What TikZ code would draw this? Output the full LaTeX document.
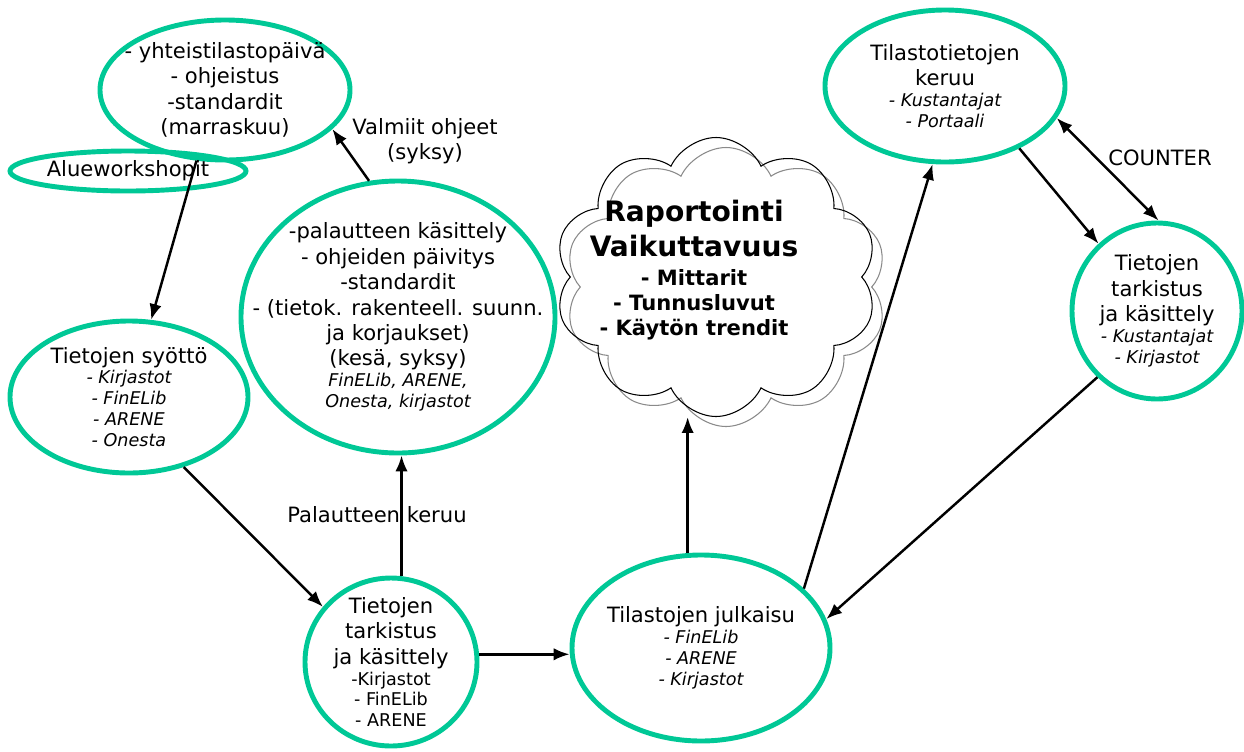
\documentclass[tikz,border=0pt]{standalone}
\usepackage{fontspec}
\setmainfont{DejaVu Sans}
\usepackage{xcolor}
\usepackage{tikz}
\usetikzlibrary{arrows.meta,shapes.geometric,shapes.symbols,shadows}
\definecolor{cyclegreen}{HTML}{00C896}
\definecolor{shadowgray}{HTML}{8A8A8A}
\newcommand{\srcline}[1]{{\fontsize{10}{12}\selectfont\itshape #1}}
\newcommand{\srcplain}[1]{{\fontsize{10}{12}\selectfont #1}}
\tikzset{
  stage/.style={
    draw=cyclegreen,
    ellipse,
    line width=2.8pt,
    inner sep=0pt
  },
  stagetext/.style={
    align=center,
    inner sep=0pt,
    font=\fontsize{12}{14.5}\selectfont
  },
  cloudshape/.style={
    cloud,
    cloud puffs=10,
    cloud puff arc=130,
    aspect=1.15,
    draw=black,
    line width=0.6pt,
    inner sep=0pt,
    minimum width=6.46cm,
    minimum height=5.58cm,
    copy shadow={shadow xshift=2mm, shadow yshift=-2mm, draw=shadowgray, fill=none, line width=0.6pt}
  },
  cloudtext/.style={
    align=center,
    inner sep=0pt,
    font=\bfseries\fontsize{16}{20}\selectfont
  },
  flowarrow/.style={
    -{Latex[length=9pt,width=7pt]},
    line width=1.4pt,
    draw=black
  },
  note/.style={
    align=center,
    inner sep=1pt,
    font=\fontsize{12}{14.5}\selectfont
  }
}

\begin{document}
\begin{tikzpicture}[x=0.2mm,y=-0.2mm]
  \useasboundingbox (0,0) rectangle (1244,751);
  % vaiheet
  \node[stage, minimum width=5cm, minimum height=2.8cm,
    label={[stagetext]center:{- yhteistilastopäivä\\ - ohjeistus\\ -standardit\\ (marraskuu)}}] (yhteis) at (225,90) {};
  \node[stage, minimum width=4.72cm, minimum height=0.8cm,
    label={[stagetext]center:Alueworkshopit}] (alue) at (128,171) {};
  \node[stage, minimum width=6.28cm, minimum height=5.44cm,
    label={[stagetext]center:{-palautteen käsittely\\ - ohjeiden päivitys\\ -standardit\\ - (tietok. rakenteell. suunn.\\ ja korjaukset)\\ (kesä, syksy)\\[-2.6pt] \srcline{FinELib, ARENE,}\\[-2.6pt] \srcline{Onesta, kirjastot}}}] (kas) at (398,317) {};
  \node[stage, minimum width=4.76cm, minimum height=3.04cm,
    label={[stagetext]center:{Tietojen syöttö\\[-2.6pt] \srcline{- Kirjastot}\\[-2.6pt] \srcline{- FinELib}\\[-2.6pt] \srcline{- ARENE}\\[-2.6pt] \srcline{- Onesta}}}] (syotto) at (129,397) {};
  \node[stage, minimum width=3.44cm, minimum height=3.36cm,
    label={[stagetext]center:{Tietojen\\ tarkistus\\ ja käsittely\\[-2.6pt] \srcplain{-Kirjastot}\\[-2.6pt] \srcplain{- FinELib}\\[-2.6pt] \srcplain{- ARENE}}}] (tark1) at (391,662) {};
  \node[stage, minimum width=5.16cm, minimum height=3.72cm,
    label={[stagetext]center:{Tilastojen julkaisu\\[-2.6pt] \srcline{- FinELib}\\[-2.6pt] \srcline{- ARENE}\\[-2.6pt] \srcline{- Kirjastot}}}] (julk) at (701,648) {};
  \node[stage, minimum width=4.8cm, minimum height=3.04cm,
    label={[stagetext]center:{Tilastotietojen\\ keruu\\[-2.6pt] \srcline{- Kustantajat}\\[-2.6pt] \srcline{- Portaali}}}] (keruu) at (945,86) {};
  \node[stage, minimum width=3.4cm, minimum height=3.52cm,
    label={[stagetext]center:{Tietojen\\ tarkistus\\ ja käsittely\\[-2.6pt] \srcline{- Kustantajat}\\[-2.6pt] \srcline{- Kirjastot}}}] (tarkb) at (1157,311) {};
  % pilvi
  \node[cloudshape,
    label={[cloudtext, xshift=-4.4mm, yshift=1.4mm]center:{Raportointi\\ Vaikuttavuus\\[-3.6pt] {\fontsize{12}{14}\selectfont - Mittarit}\\[-6pt] {\fontsize{12}{14}\selectfont - Tunnusluvut}\\[-6pt] {\fontsize{12}{14}\selectfont - Käytön trendit}}}] (cloud) at (716,277) {};
  % tekstit
  \node[note] (valmiit) at (425,141) {Valmiit ohjeet\\ (syksy)};
  \node[note] (counter) at (1160,158) {COUNTER};
  \node[note] (palaute) at (377,515) {Palautteen keruu};
  % nuolet
  \foreach \a/\b in {yhteis.248/syotto.74,kas.102/yhteis.340,syotto.308/tark1.141,julk.30/keruu.261,keruu.320/tarkb.131,tarkb.228/julk.13}
    \draw[flowarrow] (\a) -- (\b);
  \draw[flowarrow] (tark1.83) -- (tark1.83 |- kas.south);
  \draw[flowarrow] (tark1.5) -- (tark1.5 -| julk.west);
  \draw[flowarrow] (julk.98) -- (julk.98 |- cloud.south);
  \draw[flowarrow, {Latex[length=9pt,width=7pt]}-{Latex[length=9pt,width=7pt]}] (keruu.344) -- (tarkb.89);
\end{tikzpicture}
\end{document}
